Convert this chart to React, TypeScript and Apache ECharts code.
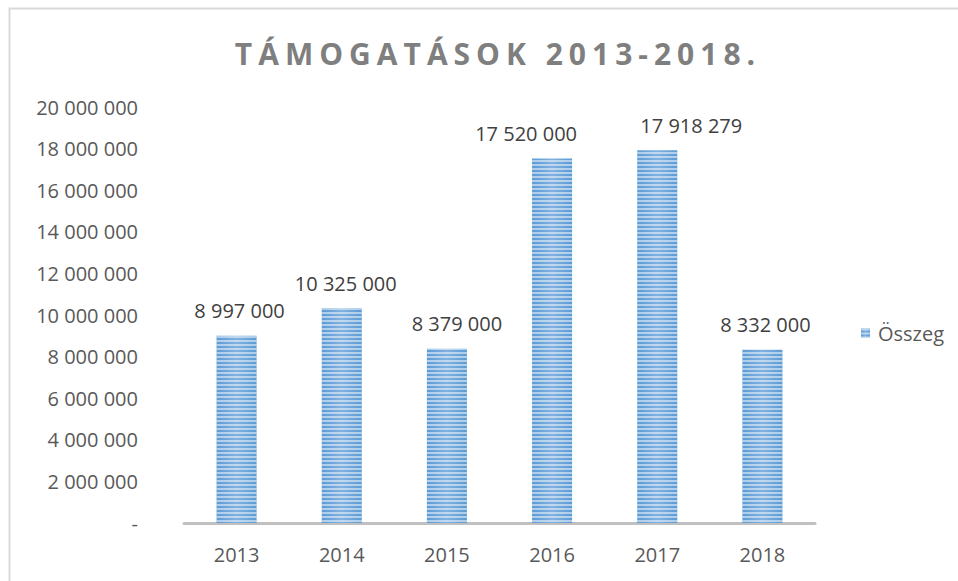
import React, { useEffect, useRef } from "react";
import * as echarts from "echarts";

const categories = ["2013", "2014", "2015", "2016", "2017", "2018"];
const values = [8997000, 10325000, 8379000, 17520000, 17918279, 8332000];
const labelShift = [3, 4, 10, -26, 34, 3];
const seriesName = "Összeg";
const titleText = "TÁMOGATÁSOK 2013-2018.";

const fmt = (v: number) => {
  if (v === 0) return "-";
  return String(Math.round(v)).replace(/\B(?=(\d{3})+(?!\d))/g, " ");
};

export default function App() {
  const ref = useRef<HTMLDivElement>(null);
  useEffect(() => {
    if (!ref.current) return;
    const chart = echarts.init(ref.current, undefined, { renderer: "svg" });
    const font = "'Open Sans', sans-serif";
    chart.setOption({
      animation: false,
      backgroundColor: "#ffffff",
      title: {
        text: titleText,
        left: 493,
        top: 33,
        textAlign: "center",
        textStyle: {
          fontFamily: "'Open Sans', ttlfont",
          fontWeight: "bold",
          fontSize: 30,
          color: "#7f7f7f",
        },
      },
      legend: {
        left: 856,
        top: 318,
        itemWidth: 9,
        itemHeight: 9,
        icon: "rect",
        textStyle: { fontFamily: font, fontSize: 20, color: "#595959", padding: [0, 0, 0, 3] },
        data: [seriesName],
      },
      grid: { left: 184, right: 143, top: 107, bottom: 58, containLabel: false },
      xAxis: {
        type: "category",
        data: categories,
        axisLine: { lineStyle: { color: "#c0c0c0", width: 3 } },
        axisTick: { show: false },
        axisLabel: { fontFamily: font, fontSize: 20, color: "#595959", margin: 21 },
      },
      yAxis: {
        type: "value",
        min: 0,
        max: 20000000,
        interval: 2000000,
        axisLine: { show: false },
        axisTick: { show: false },
        splitLine: { show: false },
        axisLabel: {
          fontFamily: font,
          fontSize: 20,
          color: "#595959",
          margin: 46,
          formatter: (v: number) => fmt(v),
        },
      },
      graphic: [
        {
          type: "rect",
          silent: true,
          shape: { x: 9.5, y: 8.5, width: 1000, height: 700 },
          style: { fill: "none", stroke: "#d9d9d9", lineWidth: 2 },
          z: -1,
        },
      ],
      series: [
        {
          name: seriesName,
          type: "bar",
          data: values.map((v, i) => ({ value: v, label: { offset: [labelShift[i], 0] } })),
          barWidth: 40,
          itemStyle: {
            color: new echarts.graphic.LinearGradient(0, 0, 1, 0, [
              { offset: 0, color: "#5b9bd5" },
              { offset: 0.5, color: "#82b1e0" },
              { offset: 1, color: "#5b9bd5" },
            ]),
            decal: {
              symbol: "rect",
              symbolSize: 1,
              dashArrayX: [1, 0],
              dashArrayY: [2, 2],
              rotation: 0,
              color: "rgba(255,255,255,0.5)",
            },
          },
          label: {
            show: true,
            position: "top",
            distance: 15,
            fontFamily: font,
            fontSize: 20,
            color: "#404040",
            formatter: (p: any) => fmt(p.value),
          },
        },
      ],
    });
    return () => chart.dispose();
  }, []);
  return (
    <>
      <style>{`text[style*="ttlfont"]{letter-spacing:6px;}`}</style>
      <div
        ref={ref}
        style={{ position: "absolute", left: 0, top: 0, width: 958, height: 581 }}
      />
    </>
  );
}
